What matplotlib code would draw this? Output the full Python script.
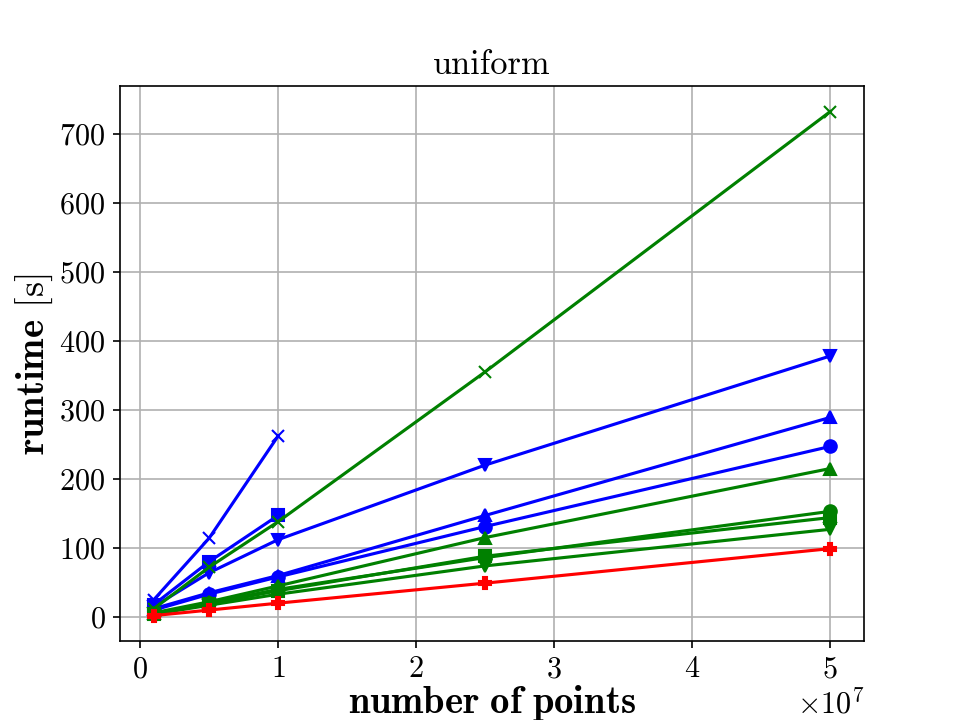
import numpy as np
import matplotlib
matplotlib.use("Agg")
import matplotlib.pyplot as plt

plt.rcParams['font.family'] = 'serif'
plt.rcParams['font.serif'] = ['cmr10']
plt.rcParams['mathtext.fontset'] = 'cm'
plt.rcParams['axes.formatter.use_mathtext'] = True
plt.rcParams['axes.unicode_minus'] = False

# number of points
n_full = [1e6, 5e6, 1e7, 2.5e7, 5e7]
n_short = [1e6, 5e6, 1e7]

# blue series (runtime in s)
blue_x = [25, 114, 262]
blue_s = [18, 80, 147]
blue_v = [15, 64, 112, 220, 378]
blue_up = [12, 35, 60, 147, 289]
blue_o = [10, 33, 58, 131, 247]

# green series
green_x = [12, 72, 138, 355, 732]
green_up = [6, 22, 45, 115, 215]
green_o = [5, 20, 40, 86, 153]
green_s = [5, 19, 38, 88, 144]
green_v = [4, 17, 33, 74, 127]

# red reference
red_p = [2, 10, 20, 49, 99]

fig, ax = plt.subplots(figsize=(6.4, 4.8), dpi=150)

ax.plot(n_short, blue_x, color='blue', marker='x')
ax.plot(n_short, blue_s, color='blue', marker='s')
ax.plot(n_full, blue_v, color='blue', marker='v')
ax.plot(n_full, blue_up, color='blue', marker='^')
ax.plot(n_full, blue_o, color='blue', marker='o')

ax.plot(n_full, green_x, color='green', marker='x')
ax.plot(n_full, green_up, color='green', marker='^')
ax.plot(n_full, green_o, color='green', marker='o')
ax.plot(n_full, green_s, color='green', marker='s')
ax.plot(n_full, green_v, color='green', marker='v')

ax.plot(n_full, red_p, color='red', marker='P')

ax.set_title('uniform', fontsize=16.5)
ax.set_xlabel(r'$\mathbf{number\ of\ points}$', fontsize=18.5, labelpad=0)
ax.set_ylabel(r'$\mathbf{runtime}$ [s]', fontsize=18.5, labelpad=2)
ax.tick_params(labelsize=14.5)
ax.xaxis.get_offset_text().set_fontsize(14.5)
ax.grid(True)

fig.savefig('out.png', dpi=150)
